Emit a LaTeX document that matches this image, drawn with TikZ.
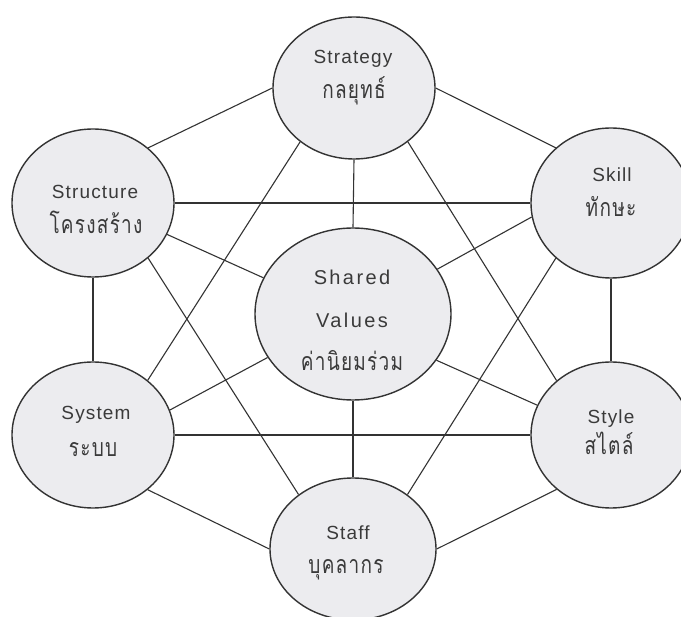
\documentclass[tikz,border=0pt]{standalone}
\usepackage{fontspec}
\setmainfont{Liberation Sans}
\newfontfamily\enfont[LetterSpace=6]{Liberation Sans}
\newfontfamily\envfont[LetterSpace=12]{Liberation Sans}
\newfontfamily\thsp[Script=Thai,LetterSpace=5,FakeStretch=0.76]{Loma}
\usetikzlibrary{shapes.geometric}
\definecolor{fillc}{HTML}{ECECEF}
\definecolor{linec}{HTML}{333333}
\definecolor{txtc}{HTML}{3A3A3A}
\tikzset{
  bub/.style={ellipse, draw=linec, line width=1.4pt, fill=fillc, inner sep=0pt},
  conn/.style={draw=linec, line width=1.1pt},
  en/.style={text=txtc, font={\enfont\fontsize{19pt}{21pt}\selectfont}, inner sep=0pt, anchor=base},
  env/.style={text=txtc, font={\envfont\fontsize{20pt}{22pt}\selectfont}, inner sep=0pt, anchor=base},
  th/.style={text=txtc, font={\thsp\fontsize{25pt}{27pt}\selectfont}, inner sep=0pt, anchor=base},
}
\begin{document}
\begin{tikzpicture}[x=1pt,y=-1pt]
\useasboundingbox (0,0) rectangle (681,617);
\clip (0,0) rectangle (681,617);
\fill[white] (0,0) rectangle (681,617);
% circles
\node[bub, minimum width=162pt, minimum height=142pt] (strat)  at (354,88)  {};
\node[bub, minimum width=162pt, minimum height=148pt] (struc)  at (93,203)  {};
\node[bub, minimum width=160pt, minimum height=150pt] (skill)  at (611,203) {};
\node[bub, minimum width=196pt, minimum height=172pt] (shared) at (353,314) {};
\node[bub, minimum width=162pt, minimum height=146pt] (system) at (93,435)  {};
\node[bub, minimum width=160pt, minimum height=146pt] (style)  at (611,435) {};
\node[bub, minimum width=166pt, minimum height=142pt] (staff)  at (353,549) {};
% outer ring
\draw[conn] (strat.180) -- (struc.45);
\draw[conn] (strat.0) -- (skill.135);
\draw[conn] (struc.south) -- (system.north);
\draw[conn] (skill.south) -- (style.north);
\draw[conn] (system.315) -- (staff.180);
\draw[conn] (style.225) -- (staff.0);
% long diagonals
\draw[conn] (strat.225) -- (system.45);
\draw[conn] (strat.315) -- (style.135);
\draw[conn] (struc.315) -- (staff.135);
\draw[conn] (skill.225) -- (staff.45);
\draw[conn] (struc.east) -- (skill.west);
\draw[conn] (system.east) -- (style.west);
% spokes
\draw[conn] (strat.south) -- (shared.north);
\draw[conn] (staff.north) -- (shared.south);
\draw[conn] (struc.-23) -- (shared.158);
\draw[conn] (skill.190) -- (shared.28);
\draw[conn] (system.18) -- (shared.207);
\draw[conn] (style.158) -- (shared.-29);
% texts
\node[en] (t-strat) at (353,63.5) {Strategy};
\node[th] (h-strat) at (354,99) {กลยุทธ์};
\node[en] (t-struc) at (95,198.5) {Structure};
\node[th] (h-struc) at (96,234) {โครงสร้าง};
\node[en] (t-skill) at (612,181.5) {Skill};
\node[th] (h-skill) at (611,217) {ทักษะ};
\node[env] (t-shared1) at (352,285) {Shared};
\node[env] (t-shared2) at (352,328) {Values};
\node[th] (h-shared) at (352,371) {ค่านิยมร่วม};
\node[en] (t-system) at (96,419.5) {System};
\node[th] (h-system) at (93,457) {ระบบ};
\node[en] (t-style) at (611,423.5) {Style};
\node[th] (h-style) at (609,455) {สไตล์};
\node[en] (t-staff) at (348,539.5) {Staff};
\node[th] (h-staff) at (346,574) {บุคลากร};
\end{tikzpicture}
\end{document}
